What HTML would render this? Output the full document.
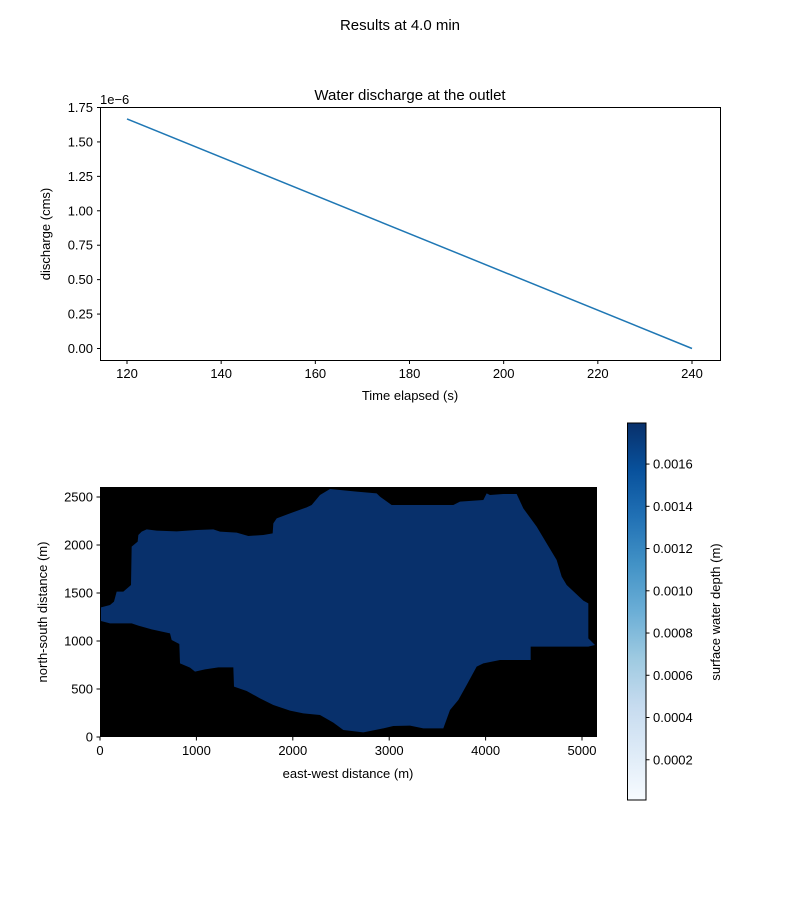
<!DOCTYPE html>
<html><head><meta charset="utf-8"><style>
body{margin:0;background:#fff}
svg{display:block;font-family:"Liberation Sans","DejaVu Sans",sans-serif}
</style></head><body>
<svg id="fig" width="800" height="900" viewBox="0 0 800 900">
<rect width="800" height="900" fill="#fff"/>
<defs>
<linearGradient id="blues" x1="0" y1="1" x2="0" y2="0">
<stop offset="0" stop-color="#f7fbff"/><stop offset="0.125" stop-color="#deebf7"/>
<stop offset="0.25" stop-color="#c6dbef"/><stop offset="0.375" stop-color="#9ecae1"/>
<stop offset="0.5" stop-color="#6baed6"/><stop offset="0.625" stop-color="#4292c6"/>
<stop offset="0.75" stop-color="#2171b5"/><stop offset="0.875" stop-color="#08519c"/>
<stop offset="1" stop-color="#08306b"/>
</linearGradient>
</defs>
<text x="400" y="30" font-size="15" text-anchor="middle">Results at 4.0 min</text>
<g id="topchart"></g>
<g id="map"></g>
<g id="cbar"></g>
</svg>
<script>
const NS="http://www.w3.org/2000/svg";
const times=[120,240];
const discharge=[1.667e-6,0];
const xTicks=[120,140,160,180,200,220,240];
const yTicks=[0,0.25,0.5,0.75,1.0,1.25,1.5,1.75];
const mapXTicks=[0,1000,2000,3000,4000,5000];
const mapYTicks=[0,500,1000,1500,2000,2500];
const cbarTicks=[0.0002,0.0004,0.0006,0.0008,0.0010,0.0012,0.0014,0.0016];

function mk(tag,attrs,parent,txt){const e=document.createElementNS(NS,tag);for(const k in attrs)e.setAttribute(k,attrs[k]);if(txt!==undefined)e.textContent=txt;parent.appendChild(e);return e;}

const topG=document.getElementById('topchart');
const X=t=>127+(t-120)*(692-127)/120;
const Y=v=>348.5-v*1e6*(348.5-107.5)/1.75;
let r=mk('rect',{x:100.5,y:107.5,width:620,height:253,fill:'none',stroke:'#000','stroke-width':1},topG);


xTicks.forEach(t=>{const x=X(t);
 let l=mk('line',{x1:x,x2:x,y1:360.5,y2:364,stroke:'#000'},topG);
 
 
 let tx=mk('text',{x:x,y:378,'font-size':13,'text-anchor':'middle'},topG,t);
 
 });
yTicks.forEach(v=>{const y=Y(v*1e-6);
 let l=mk('line',{x1:97,x2:100.5,y1:y,y2:y,stroke:'#000'},topG);
 
 
 let tx=mk('text',{x:93,y:y+4.5,'font-size':13,'text-anchor':'end'},topG,v.toFixed(2));
 
 });
let pts=times.map((t,i)=>X(t)+','+Y(discharge[i])).join(' ');
let pl=mk('polyline',{points:pts,fill:'none',stroke:'#1f77b4','stroke-width':1.5},topG);


let t1=mk('text',{x:410,y:100,'font-size':15,'text-anchor':'middle'},topG,'Water discharge at the outlet');


let t2=mk('text',{x:100,y:104,'font-size':13},topG,'1e\u22126');


let t3=mk('text',{x:410,y:400,'font-size':13,'text-anchor':'middle'},topG,'Time elapsed (s)');


let t4=mk('text',{x:50,y:234,'font-size':13,'text-anchor':'middle',transform:'rotate(-90 50 234)'},topG,'discharge (cms)');



const map=document.getElementById('map');
const MX=v=>100+v*0.0964, MY=v=>737-v*0.096;
let bg=mk('rect',{x:100,y:487,width:497,height:250,fill:'#000'},map);


const outline=[[33,382],[33,423],[60,430],[125,430],[145,437],[185,448],[240,460],[245,480],[268,492],[270,550],[300,563],[315,575],[345,568],[385,562],[430,562],[432,620],[470,633],[510,655],[550,675],[600,692],[640,700],[690,705],[730,728],[760,750],[820,757],[880,745],[910,738],[960,737],[1000,745],[1060,745],[1080,690],[1105,660],[1130,615],[1160,560],[1180,550],[1230,540],[1322,540],[1322,500],[1495,500],[1515,495],[1495,475],[1495,370],[1480,362],[1430,315],[1415,290],[1400,240],[1370,190],[1340,140],[1300,85],[1280,42],[1240,42],[1200,45],[1190,40],[1180,60],[1110,65],[1090,75],[905,75],[870,50],[860,40],[800,35],[720,27],[690,45],[665,75],[650,82],[600,100],[560,115],[550,130],[548,160],[520,165],[475,168],[440,158],[390,155],[370,148],[320,150],[260,154],[200,152],[170,148],[155,155],[145,165],[143,185],[125,200],[123,315],[100,335],[80,335],[72,365],[60,375]];
let wp=mk('polygon',{points:outline.map(p=>(90+p[0]/3)+','+(480+p[1]/3)).join(' '),fill:'#08306b'},map);


mapXTicks.forEach(v=>{const x=MX(v);
 let l=mk('line',{x1:x,x2:x,y1:737,y2:740.5,stroke:'#000'},map);
 
 
 let tx=mk('text',{x:x,y:755,'font-size':13,'text-anchor':'middle'},map,v);
 
 });
mapYTicks.forEach(v=>{const y=MY(v);
 let l=mk('line',{x1:96.5,x2:100,y1:y,y2:y,stroke:'#000'},map);
 
 
 let tx=mk('text',{x:93,y:y+4.5,'font-size':13,'text-anchor':'end'},map,v);
 
 });
let m1=mk('text',{x:348,y:778,'font-size':13,'text-anchor':'middle'},map,'east-west distance (m)');


let m2=mk('text',{x:47,y:612,'font-size':13,'text-anchor':'middle',transform:'rotate(-90 47 612)'},map,'north-south distance (m)');



const cb=document.getElementById('cbar');
const CY=v=>802-v*(760-464.3)/0.0014;
let cr=mk('rect',{x:627.5,y:423,width:18.5,height:377,fill:'url(#blues)',stroke:'#000','stroke-width':1},cb);


cbarTicks.forEach(v=>{const y=CY(v);
 let l=mk('line',{x1:646,x2:649.5,y1:y,y2:y,stroke:'#000'},cb);
 
 
 let tx=mk('text',{x:653,y:y+4.5,'font-size':13},cb,v.toFixed(4));
 
 });
let c1=mk('text',{x:720,y:612,'font-size':13,'text-anchor':'middle',transform:'rotate(-90 720 612)'},cb,'surface water depth (m)');


</script>
</body></html>
